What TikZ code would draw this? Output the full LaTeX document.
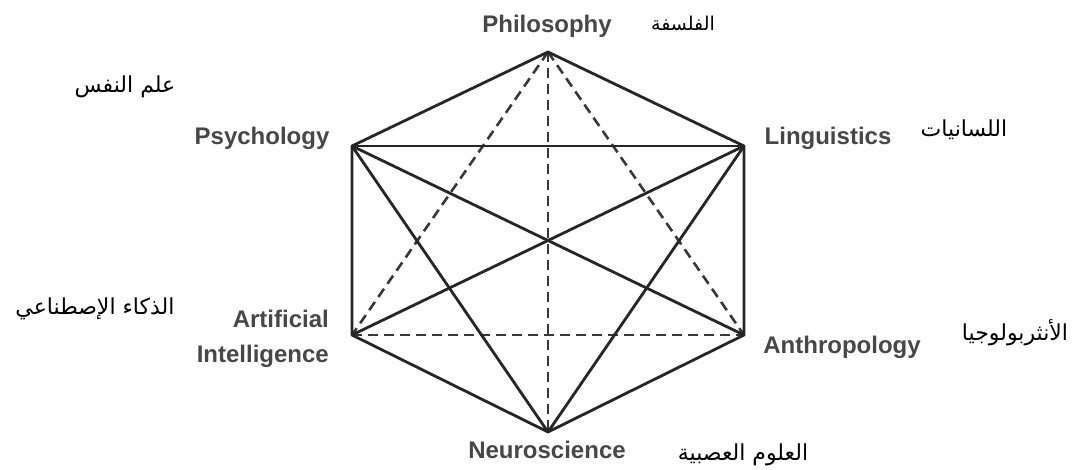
\documentclass[tikz,border=0pt]{standalone}
\usepackage{fontspec}
\setmainfont{Liberation Sans}
\newfontfamily\arabicfont[Script=Arabic]{DejaVu Sans}
\TeXXeTstate=1
\begin{document}
\begin{tikzpicture}[x=1pt,y=-1pt,
  edge/.style={line width=2.8pt,black!85,line join=round},
  thinedge/.style={line width=1.5pt,black!85},
  dashedge/.style={line width=2.6pt,black!78,dash pattern=on 10pt off 6pt},
  lab/.style={inner sep=0pt,anchor=base,text=black!72,font=\fontsize{24}{26}\selectfont\bfseries},
  ar/.style={inner sep=0pt,anchor=base,text=black,font=\fontsize{22}{24}\selectfont\arabicfont}]
\useasboundingbox[fill=white] (0,0) rectangle (1084,470);
% vertices
\coordinate (phil) at (548,52);
\coordinate (psy) at (352,146);
\coordinate (ling) at (744,146);
\coordinate (ai) at (352,335);
\coordinate (anth) at (744,335);
\coordinate (neuro) at (548,432);
% dashed lines
\draw[dashedge] (phil) -- (ai);
\draw[dashedge] (phil) -- (anth);
\draw[dashedge] (phil) -- (neuro);
\draw[dashedge] (ai) -- (anth);
% solid inner lines
\draw[thinedge] (psy) -- (ling);
\draw[edge] (psy) -- (anth);
\draw[edge] (psy) -- (neuro);
\draw[edge] (ling) -- (ai);
\draw[edge] (ling) -- (neuro);
% hexagon
\draw[edge] (phil) -- (ling) -- (anth) -- (neuro) -- (ai) -- (psy) -- cycle;
% English labels
\node[lab] (tphil) at (547,33) {Philosophy};
\node[lab] (tpsy) at (262,145) {Psychology};
\node[lab] (tling) at (828,145) {Linguistics};
\node[lab,anchor=base east] (tart) at (329,327) {Artificial};
\node[lab,anchor=base east] (tint) at (329,362) {Intelligence};
\node[lab] (tanth) at (842,353) {Anthropology};
\node[lab] (tneuro) at (547,458) {Neuroscience};
% Arabic labels
\node[ar,font=\fontsize{19}{22}\selectfont\arabicfont] (aphil) at (683,31) {\beginR الفلسفة\endR};
\node[ar] (apsy) at (125,93) {\beginR علم النفس\endR};
\node[ar] (aling) at (964,137) {\beginR اللسانيات\endR};
\node[ar] (aai) at (95,315) {\beginR الذكاء الإصطناعي\endR};
\node[ar] (aanth) at (1015,340) {\beginR الأنثربولوجيا\endR};
\node[ar] (aneuro) at (743,460) {\beginR العلوم العصبية\endR};
\end{tikzpicture}
\end{document}
